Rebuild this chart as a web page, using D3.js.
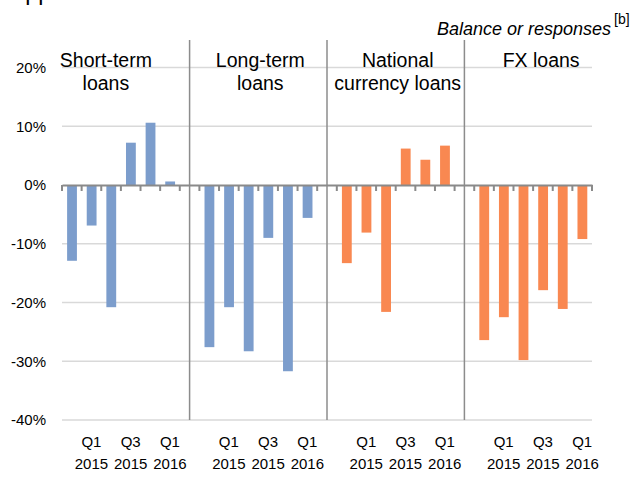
<!DOCTYPE html>
<html>
<head>
<meta charset="utf-8">
<script src="https://cdn.jsdelivr.net/npm/d3@7"></script>
<style>
  html, body { margin: 0; padding: 0; background: #fff; }
  svg { display: block; font-family: "Liberation Sans", Arial, sans-serif; }
</style>
</head>
<body>
<svg id="chart" width="636" height="477"></svg>
<script>
// ---- data ----
const categories = ["Q4 2014", "Q1 2015", "Q2 2015", "Q3 2015", "Q4 2015", "Q1 2016"];
const groupNames = ["Short-term loans", "Long-term loans", "National currency loans", "FX loans"];
const groupTitleLines = [["Short-term", "loans"], ["Long-term", "loans"], ["National", "currency loans"], ["FX loans"]];
const shortTerm = [-12.9, -6.9, -20.8, 7.2, 10.6, 0.6];
const longTerm = [-27.6, -20.8, -28.3, -9.0, -31.7, -5.6];
const nationalCurrency = [-13.3, -8.1, -21.6, 6.2, 4.3, 6.7];
const fxLoans = [-26.4, -22.5, -29.8, -17.9, -21.1, -9.2];
const yTicks = [20, 10, 0, -10, -20, -30, -40];
const xTickLabels = [null, ["Q1", "2015"], null, ["Q3", "2015"], null, ["Q1", "2016"]];
const unitLabel = "Balance or responses";
const unitNote = "[b]";
const cutTitle = "Applications";

// ---- layout ----
const seriesValues = [shortTerm, longTerm, nationalCurrency, fxLoans];
const seriesColors = ["#7C9DCC", "#7C9DCC", "#F98851", "#F98851"];
const titleOffsets = [-15, 2, 2, 8];

const svg = d3.select("#chart");
const pLeft = 62, pRight = 592, pTop = 67.5, pBottom = 420;

// slots: 6 per group plus a blank slot between groups
const slots = [];
groupNames.forEach((g, gi) => {
  categories.forEach((c, ci) => slots.push(gi + "|" + ci));
  if (gi < groupNames.length - 1) slots.push("gap" + gi);
});

const x = d3.scaleBand().domain(slots).range([pLeft, pRight]).paddingInner(0).paddingOuter(0);
const y = d3.scaleLinear().domain([-40, 20]).range([pBottom, pTop]);
const bw = x.bandwidth();

// cut-off title at the very top (only descenders visible, as in the reference)
svg.append("text").attr("x", 10).attr("y", -0.5)
  .attr("font-size", 23).attr("fill", "#000").text(cutTitle);

// gridlines
svg.append("g").selectAll("line").data(yTicks.filter(d => d !== 0)).join("line")
  .attr("x1", pLeft).attr("x2", pRight)
  .attr("y1", d => y(d)).attr("y2", d => y(d))
  .attr("stroke", "#d9d9d9").attr("stroke-width", 1.5);

// y-axis labels
svg.append("g").selectAll("text").data(yTicks).join("text")
  .attr("x", 46).attr("y", d => y(d)).attr("dy", "0.36em")
  .attr("text-anchor", "end").attr("font-size", 15).attr("fill", "#000")
  .text(d => d + "%");

// dividers (center of gap slots)
const gaps = slots.filter(s => s.startsWith("gap"));
svg.append("g").selectAll("line").data(gaps).join("line")
  .attr("x1", d => x(d) + bw / 2).attr("x2", d => x(d) + bw / 2)
  .attr("y1", 40).attr("y2", pBottom)
  .attr("stroke", "#8c8c8c").attr("stroke-width", 1.5);

// bars
const barData = [];
seriesValues.forEach((vals, gi) => vals.forEach((v, ci) => barData.push({ key: gi + "|" + ci, v, gi })));
svg.append("g").selectAll("rect").data(barData).join("rect")
  .attr("x", d => x(d.key) + bw * 0.26)
  .attr("width", bw * 0.5)
  .attr("y", d => y(Math.max(0, d.v)))
  .attr("height", d => Math.abs(y(d.v) - y(0)))
  .attr("fill", d => seriesColors[d.gi]);

// zero axis with ticks at slot boundaries
const xAxis = d3.axisBottom(x).tickSize(0).tickFormat("");
const axisG = svg.append("g").attr("transform", `translate(0,${y(0)})`).call(xAxis);
axisG.select(".domain").attr("stroke", "#8a8a8a").attr("stroke-width", 2);
const boundaries = d3.range(slots.length + 1);
axisG.append("g").selectAll("line").data(boundaries).join("line")
  .attr("x1", i => pLeft + i * bw).attr("x2", i => pLeft + i * bw)
  .attr("y1", 0).attr("y2", 6)
  .attr("stroke", "#8a8a8a").attr("stroke-width", 2);

// x tick labels
const labelData = [];
groupNames.forEach((g, gi) => xTickLabels.forEach((l, ci) => { if (l) labelData.push({ key: gi + "|" + ci, l }); }));
const lg = svg.append("g").selectAll("text").data(labelData).join("text")
  .attr("text-anchor", "middle").attr("font-size", 15).attr("fill", "#000");
lg.append("tspan").attr("x", d => x(d.key) + bw / 2).attr("y", 447).text(d => d.l[0]);
lg.append("tspan").attr("x", d => x(d.key) + bw / 2).attr("y", 469).text(d => d.l[1]);

// panel titles
groupNames.forEach((g, gi) => {
  const cx = x(gi + "|3") + titleOffsets[gi];
  const t = svg.append("text").attr("text-anchor", "middle").attr("font-size", 19.5).attr("fill", "#000");
  groupTitleLines[gi].forEach((line, li) => {
    t.append("tspan").attr("x", cx).attr("y", 67 + li * 23).text(line);
  });
});

// unit label
svg.append("text").attr("x", 611).attr("y", 35).attr("text-anchor", "end")
  .attr("font-size", 18).attr("font-style", "italic").attr("fill", "#000").text(unitLabel);
svg.append("text").attr("x", 614).attr("y", 24).attr("font-size", 14).attr("fill", "#000").text(unitNote);
</script>
</body>
</html>
